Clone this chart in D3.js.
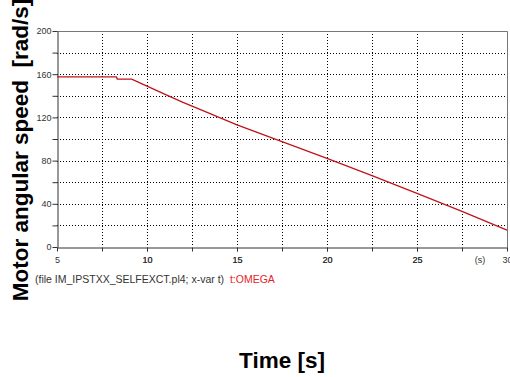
<!DOCTYPE html>
<html>
<head>
<meta charset="utf-8">
<script src="https://cdn.jsdelivr.net/npm/d3@7"></script>
<style>
  body { margin: 0; background: #fff; }
  svg { display: block; }
</style>
</head>
<body>
<svg id="chart" width="510" height="377"></svg>
<script>
// time [s] and omega [rad/s]
var timeValues = [5, 8.3, 8.35, 9.15, 10, 11.1, 12, 12.94, 15, 17.5, 20, 22.5, 25, 27.5, 30];
var omegaValues = [157.5, 157.5, 155.5, 155.5, 149, 140.7, 134, 127.5, 113, 97.5, 82, 66, 49.7, 33, 15.7];
var xMajorTicks = [5, 10, 15, 20, 25, 30];
var xGridTicks = [7.5, 10, 12.5, 15, 17.5, 20, 22.5, 25, 27.5];
var yMajorTicks = [0, 40, 80, 120, 160, 200];
var yGridTicks = [20, 40, 60, 80, 100, 120, 140, 160, 180];

var svg = d3.select("#chart");
var pLeft = 57, pRight = 507, pTop = 31, pBottom = 247;
var tickFont = "Liberation Sans, Arial, sans-serif";

var x = d3.scaleLinear().domain([5, 30]).range([pLeft, pRight]);
var y = d3.scaleLinear().domain([0, 200]).range([pBottom, pTop]);

// grid
var grid = svg.append("g").attr("class", "grid");
grid.selectAll(".vg").data(xGridTicks).enter().append("line")
    .attr("x1", function (d) { return Math.round(x(d)) + 0.5; })
    .attr("x2", function (d) { return Math.round(x(d)) + 0.5; })
    .attr("y1", pTop).attr("y2", pBottom)
    .attr("stroke", "#000").attr("stroke-dasharray", "1,2");
grid.selectAll(".hg").data(yGridTicks).enter().append("line")
    .attr("x1", pLeft).attr("x2", pRight)
    .attr("y1", function (d) { return Math.round(y(d)) + 0.5; })
    .attr("y2", function (d) { return Math.round(y(d)) + 0.5; })
    .attr("stroke", "#000").attr("stroke-dasharray", "1,2");

// frame top / right
svg.append("path")
    .attr("d", "M" + (pLeft + 0.5) + "," + (pTop + 0.5) + "H" + (pRight + 0.5) + "V" + (pBottom + 0.5))
    .attr("fill", "none").attr("stroke", "#777");

// x axis
var xAxis = d3.axisBottom(x).tickValues(xMajorTicks.concat(xGridTicks)).tickSize(4).tickSizeOuter(0)
    .tickFormat(function (d) { return xMajorTicks.indexOf(d) >= 0 ? d : ""; });
var gx = svg.append("g").attr("transform", "translate(0," + (pBottom + 0.5) + ")").call(xAxis);
gx.select(".domain").attr("stroke", "#333");
gx.selectAll(".tick line").attr("stroke", "#333");
gx.selectAll(".tick text").attr("fill", "#333").attr("y", 15).attr("dy", 0)
    .style("font-family", tickFont).style("font-size", "9px");
gx.append("text").attr("x", x(28.5)).attr("y", 15)
    .attr("fill", "#333").attr("text-anchor", "middle")
    .style("font-family", tickFont).style("font-size", "9px")
    .text("(s)");

// y axis
var yAxis = d3.axisLeft(y).tickValues(yMajorTicks.concat([20, 60, 100, 140, 180])).tickSize(5).tickSizeOuter(0)
    .tickFormat(function (d) { return yMajorTicks.indexOf(d) >= 0 ? d : ""; });
var gy = svg.append("g").attr("transform", "translate(" + (pLeft + 0.5) + ",0)").call(yAxis);
gy.select(".domain").attr("stroke", "#333");
gy.selectAll(".tick line").attr("stroke", "#333");
gy.selectAll(".tick text").attr("fill", "#333").attr("x", -6)
    .style("font-family", tickFont).style("font-size", "9px");

// curve
var line = d3.line()
    .x(function (d) { return x(d[0]); })
    .y(function (d) { return y(d[1]); });
svg.append("path")
    .datum(d3.zip(timeValues, omegaValues))
    .attr("d", line)
    .attr("fill", "none").attr("stroke", "#c0141c").attr("stroke-width", 1.3);

// caption
var cap = svg.append("text").attr("x", 35).attr("y", 283).attr("xml:space", "preserve")
    .style("font-family", tickFont).style("font-size", "10.5px");
cap.append("tspan").attr("fill", "#333").text("(file IM_IPSTXX_SELFEXCT.pl4; x-var t)  ");
cap.append("tspan").attr("fill", "#e8232a").text("t:OMEGA");

// axis titles
svg.append("text").attr("x", 282).attr("y", 368).attr("text-anchor", "middle")
    .style("font-family", "Liberation Sans, Arial, sans-serif").style("font-weight", "bold")
    .style("font-size", "22.5px").text("Time [s]");
svg.append("text").attr("transform", "translate(28,150) rotate(-90)").attr("text-anchor", "middle")
    .style("font-family", "Liberation Sans, Arial, sans-serif").style("font-weight", "bold")
    .style("font-size", "22.5px").attr("xml:space", "preserve").text("Motor angular speed  [rad/s]");
</script>
</body>
</html>
